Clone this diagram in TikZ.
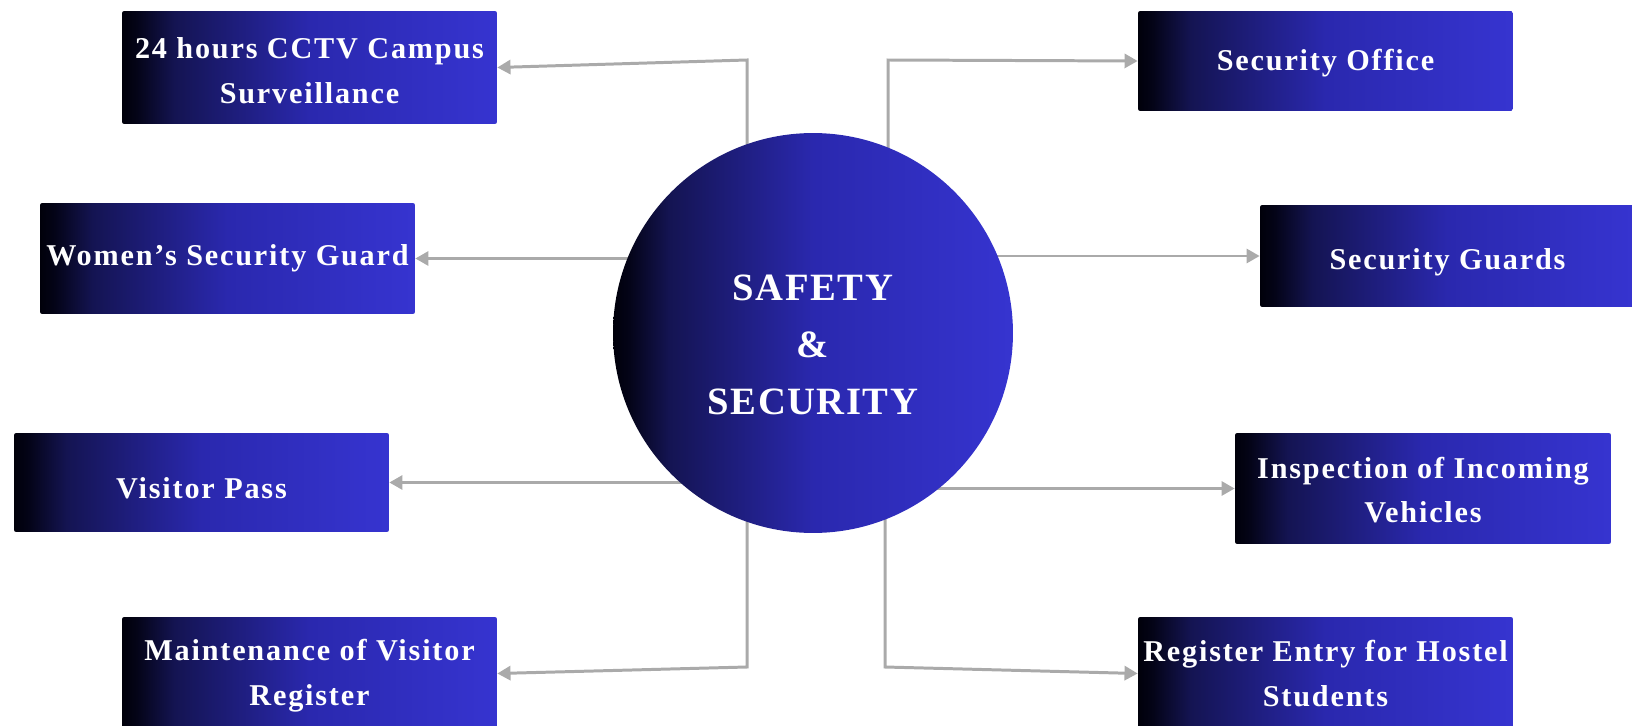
\documentclass[tikz,border=0pt]{standalone}
\usepackage{fontspec}
\setmainfont{Liberation Serif}[LetterSpace=6]
\newfontfamily\hubfont{Liberation Serif}[LetterSpace=4]
\usetikzlibrary{arrows.meta, backgrounds, positioning}

\definecolor{inkblack}{RGB}{0,0,10}
\definecolor{darkink}{RGB}{4,4,24}
\definecolor{nightblue}{RGB}{20,20,82}
\definecolor{midblue}{RGB}{42,40,174}
\definecolor{brightblue}{RGB}{54,52,208}
\definecolor{linkgray}{RGB}{170,170,170}

% the node is fitted to the 25bp--75bp part of the shading
\pgfdeclarehorizontalshading{blueband}{100bp}{color(0bp)=(inkblack); color(25bp)=(inkblack); color(27bp)=(darkink); color(32bp)=(nightblue); color(50bp)=(midblue); color(75bp)=(brightblue); color(100bp)=(brightblue)}

\newcommand\padtop[1]{\rule{0pt}{#1}}

\tikzset{
  infobox/.style={shading=blueband, rounded corners=1.2pt, minimum width=7.5cm,
    text=white, align=center, inner sep=0pt,
    font=\bfseries\fontsize{17.2}{25.5}\selectfont},
  hubdisk/.style={circle, shading=blueband, minimum size=8cm, text=white,
    align=center, font=\hubfont\bfseries\fontsize{22}{32.4}\selectfont},
  link/.style={draw=linkgray, line width=1.7pt, -{Triangle[length=7.5pt, width=8pt]}},
}

\begin{document}
\begin{tikzpicture}[x=0.02cm, y=-0.02cm]
  \useasboundingbox (0,0) rectangle (1632,726);

  % centre
  \node[hubdisk] (hub) at (813,333) {\padtop{28pt}SAFETY\\\&\\SECURITY};

  % left column
  \node[infobox, minimum height=2.26cm] (cctv) at (309.5,67.5) {\padtop{15.5pt}24 hours CCTV Campus\\Surveillance};
  \node[infobox, minimum height=2.22cm] (women) at (227.5,258.5) {Women’s Security Guard};
  \node[infobox, minimum height=1.98cm] (visitor) at (201.5,482.5) {\padtop{19pt}Visitor Pass};
  \node[infobox, minimum height=2.26cm] (ledger) at (309.5,673.5) {\padtop{14.5pt}Maintenance of Visitor\\Register};

  % right column
  \node[infobox, minimum height=2cm] (office) at (1325.5,61) {\padtop{14.5pt}Security Office};
  \node[infobox, minimum height=2.04cm] (guards) at (1447.5,256) {\padtop{19pt}Security Guards};
  \node[infobox, minimum height=2.22cm, minimum width=7.52cm] (vehicles) at (1423,488.5) {\padtop{14pt}Inspection of Incoming\\Vehicles};
  \node[infobox, minimum height=2.26cm] (hostel) at (1325.5,673.5) {Register Entry for Hostel\\Students};

  % connectors
  \begin{scope}[on background layer]
    \coordinate (cctvbend) at (747,60);
    \coordinate (officebend) at (888,60);
    \coordinate (ledgerbend) at (747,667);
    \coordinate (hostelbend) at (885,667);
    \draw[link] (hub.center -| cctvbend) -- (cctvbend) -- (cctv.east);
    \draw[link] (hub.center -| officebend) -- (officebend) -- (office.west);
    \draw[link] (hub.center -| ledgerbend) -- (ledgerbend) -- (ledger.east);
    \draw[link] (hub.center -| hostelbend) -- (hostelbend) -- (hostel.west);
    \draw[link] (hub.center |- women.east) -- (women.east);
    \draw[link] (hub.center |- guards.west) -- (guards.west);
    \draw[link] (hub.center |- visitor.east) -- (visitor.east);
    \draw[link] (hub.center |- vehicles.west) -- (vehicles.west);
  \end{scope}
\end{tikzpicture}
\end{document}
